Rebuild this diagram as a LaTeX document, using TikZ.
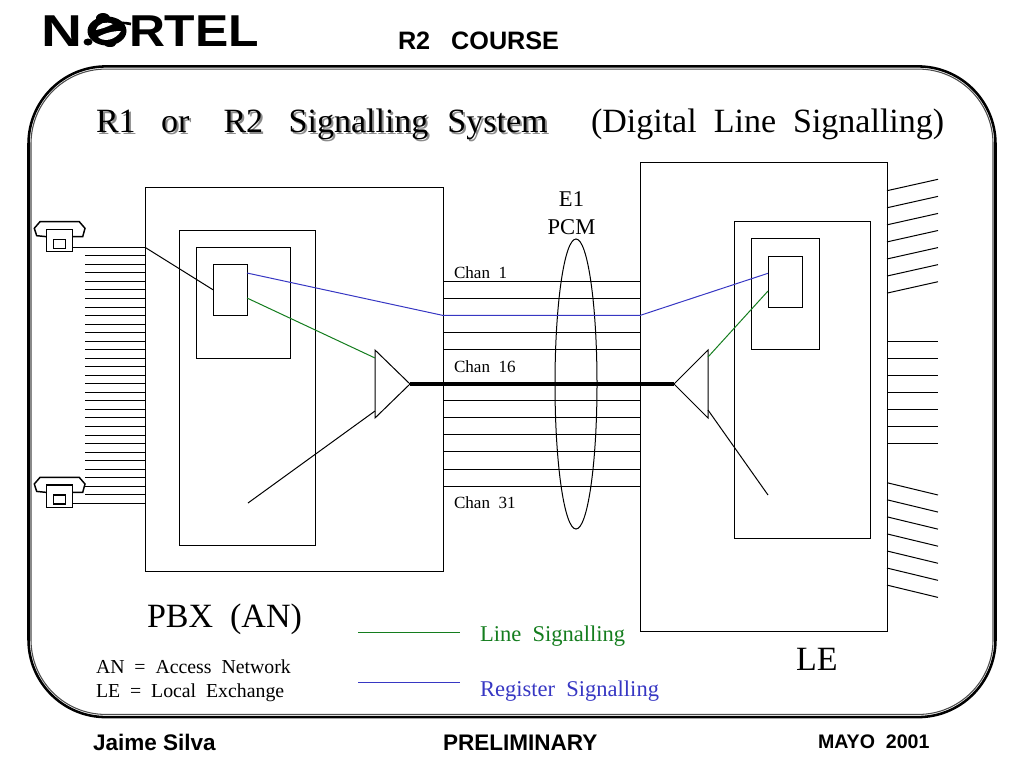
\documentclass[tikz,border=0pt]{standalone}
\usepackage{fontspec}
\setmainfont{Liberation Serif}
\setsansfont{Liberation Sans}
\usetikzlibrary{positioning,shapes.geometric}
\definecolor{lineg}{RGB}{20,125,30}
\definecolor{regb}{RGB}{55,55,195}
\tikzset{
  box/.style={draw,inner sep=0pt,outer sep=0pt,line width=.75pt,fill=none},
  txt/.style={anchor=base west,inner sep=0pt,outer sep=0pt},
  big/.style={txt,font=\fontsize{25.5}{30}\selectfont},
  mid/.style={txt,font=\fontsize{16.9}{20}\selectfont},
  small/.style={txt,font=\fontsize{14.85}{18}\selectfont},
  chan/.style={txt,font=\fontsize{12.8}{15}\selectfont},
  foot/.style={txt,font=\fontsize{16.9}{20}\selectfont\sffamily\bfseries},
  logo/.style={txt,font=\fontsize{33.5}{36}\selectfont\sffamily\bfseries},
  phone/.pic={
    \draw[line width=1.1pt] (-12.8,3.8) -- (-22.8,4.8) -- (-25.2,12.2) -- (-19.5,18.8)
      -- (19.8,18.8) -- (25.5,12.2) -- (23.2,3.8) -- (12.8,3.8);
    \node[box,line width=1.1pt,minimum width=19.2pt,minimum height=16.8pt] (-body) at (0,0) {};
    \node[box,line width=1.1pt,minimum width=9.3pt,minimum height=6.75pt] (-key) at (0,-3.3) {};
  }
}
\begin{document}
\begin{tikzpicture}[x=.75pt,y=.75pt,line width=.75pt]
\useasboundingbox (0,0) rectangle (1024,-768);

\node[logo,xscale=1.27] (logon) at (41,-46.5) {N};
\node[logo,xscale=1.116] (logortel) at (129,-46.5) {RTEL};
\fill (107,-31) ellipse (19.5 and 14.5);
\fill (103,-18) ellipse (7 and 5);
\fill (88,-42) ellipse (4.5 and 3.5);
\fill (110,-44) ellipse (6 and 3);
\fill[white] (96,-30) .. controls (98,-23) and (106,-21) .. (113,-24) .. controls (107,-27) and (101,-29) .. cycle;
\fill[white] (98,-37) .. controls (103,-42) and (115,-41) .. (121,-31) .. controls (113,-31) and (105,-33) .. cycle;
\draw[line width=2pt] (112,-22) .. controls (118,-24) and (124,-22) .. (131,-24);

\node[foot,font=\fontsize{18.9}{20}\selectfont\sffamily\bfseries] (course) at (398,-49.5) {R2~~~COURSE};

\node[box,line width=1.9pt,rounded corners=58pt,minimum width=725.25pt,minimum height=488pt] (frame) at (512,-391.75) {};
\node[box,line width=.8pt,draw=black!70,rounded corners=56pt,minimum width=721.5pt,minimum height=484pt] (framein) at (512,-391.75) {};

\node[big,text=black!45] (titleshadow) at (98,-134) {R1~~~or~~~~R2~~~Signalling~~\hspace{1.5pt}System};
\node[big] (title) at (96,-132) {R1~~~or~~~~R2~~~Signalling~~\hspace{1.5pt}System};
\node[big] (subtitle) at (591,-132) {(Digital~~Line~~Signalling)};

\node[box,minimum width=223.5pt,minimum height=288pt] (pbx) at (294,-379) {};
\node[box,minimum width=102pt,minimum height=236.6pt] (pbxmid) at (247,-388.25) {};
\node[box,minimum width=70.5pt,minimum height=83.25pt] (pbxin) at (243,-302.5) {};
\node[box,minimum width=25.5pt,minimum height=38.6pt] (pbxcpu) at (230,-289.75) {};

\node[box,minimum width=185.25pt,minimum height=351.75pt] (le) at (763.5,-396.5) {};
\node[box,minimum width=102pt,minimum height=237.4pt] (lemid) at (802,-379.75) {};
\node[box,minimum width=51pt,minimum height=83.6pt] (lein) at (785,-294.25) {};
\node[box,minimum width=25.5pt,minimum height=38.25pt] (lecpu) at (785,-281.5) {};

\pic (phonea) at (59.5,-240.5) {phone};
\pic (phoneb) at (59.5,-496.2) {phone};

\coordinate (l1) at (145,-247.3);
\draw (l1) -- (l1 -| phonea-body.east);
\coordinate[below of=l1,node distance=6.4pt] (l2); \draw (l2) -- ++(-60,0) coordinate (m2);
\coordinate[below of=l2,node distance=6.4pt] (l3); \draw (l3) -- ++(-60,0) coordinate (m3);
\coordinate[below of=l3,node distance=6.4pt] (l4); \draw (l4) -- ++(-60,0) coordinate (m4);
\coordinate[below of=l4,node distance=6.4pt] (l5); \draw (l5) -- ++(-60,0) coordinate (m5);
\coordinate[below of=l5,node distance=6.4pt] (l6); \draw (l6) -- ++(-60,0) coordinate (m6);
\coordinate[below of=l6,node distance=6.4pt] (l7); \draw (l7) -- ++(-60,0) coordinate (m7);
\coordinate[below of=l7,node distance=6.4pt] (l8); \draw (l8) -- ++(-60,0) coordinate (m8);
\coordinate[below of=l8,node distance=6.4pt] (l9); \draw (l9) -- ++(-60,0) coordinate (m9);
\coordinate[below of=l9,node distance=6.4pt] (l10); \draw (l10) -- ++(-60,0) coordinate (m10);
\coordinate[below of=l10,node distance=6.4pt] (l11); \draw (l11) -- ++(-60,0) coordinate (m11);
\coordinate[below of=l11,node distance=6.4pt] (l12); \draw (l12) -- ++(-60,0) coordinate (m12);
\coordinate[below of=l12,node distance=6.4pt] (l13); \draw (l13) -- ++(-60,0) coordinate (m13);
\coordinate[below of=l13,node distance=6.4pt] (l14); \draw (l14) -- ++(-60,0) coordinate (m14);
\coordinate[below of=l14,node distance=6.4pt] (l15); \draw (l15) -- ++(-60,0) coordinate (m15);
\coordinate[below of=l15,node distance=6.4pt] (l16); \draw (l16) -- ++(-60,0) coordinate (m16);
\coordinate[below of=l16,node distance=6.4pt] (l17); \draw (l17) -- ++(-60,0) coordinate (m17);
\coordinate[below of=l17,node distance=6.4pt] (l18); \draw (l18) -- ++(-60,0) coordinate (m18);
\coordinate[below of=l18,node distance=6.4pt] (l19); \draw (l19) -- ++(-60,0) coordinate (m19);
\coordinate[below of=l19,node distance=6.4pt] (l20); \draw (l20) -- ++(-60,0) coordinate (m20);
\coordinate[below of=l20,node distance=6.4pt] (l21); \draw (l21) -- ++(-60,0) coordinate (m21);
\coordinate[below of=l21,node distance=6.4pt] (l22); \draw (l22) -- ++(-60,0) coordinate (m22);
\coordinate[below of=l22,node distance=6.4pt] (l23); \draw (l23) -- ++(-60,0) coordinate (m23);
\coordinate[below of=l23,node distance=6.4pt] (l24); \draw (l24) -- ++(-60,0) coordinate (m24);
\coordinate[below of=l24,node distance=6.4pt] (l25); \draw (l25) -- ++(-60,0) coordinate (m25);
\coordinate[below of=l25,node distance=6.4pt] (l26); \draw (l26) -- ++(-60,0) coordinate (m26);
\coordinate[below of=l26,node distance=6.4pt] (l27); \draw (l27) -- ++(-60,0) coordinate (m27);
\coordinate[below of=l27,node distance=6.4pt] (l28); \draw (l28) -- ++(-60,0) coordinate (m28);
\coordinate[below of=l28,node distance=6.4pt] (l29); \draw (l29) -- ++(-60,0) coordinate (m29);
\coordinate[below of=l29,node distance=6.4pt] (l30); \draw (l30) -- ++(-60,0) coordinate (m30);
\coordinate[below of=l30,node distance=6.4pt] (l31);
\draw (l31) -- (l31 -| phoneb-body.east);

\coordinate (c1) at (443,-281.3);
\coordinate[below of=c1,node distance=12.8pt] (c2);
\coordinate[below of=c2,node distance=12.8pt] (c3);
\coordinate[below of=c3,node distance=12.8pt] (c4);
\coordinate[below of=c4,node distance=12.8pt] (c5);
\coordinate[below of=c5,node distance=38.4pt] (c8);
\coordinate[below of=c8,node distance=12.8pt] (c9);
\coordinate[below of=c9,node distance=12.8pt] (c10);
\coordinate[below of=c10,node distance=12.8pt] (c11);
\coordinate[below of=c11,node distance=12.8pt] (c12);
\coordinate[below of=c12,node distance=12.8pt] (c13);
\coordinate[right of=c1,node distance=147.75pt] (d1);
\coordinate[right of=c2,node distance=147.75pt] (d2);
\coordinate[right of=c3,node distance=147.75pt] (d3);
\coordinate[right of=c4,node distance=147.75pt] (d4);
\coordinate[right of=c5,node distance=147.75pt] (d5);
\coordinate[right of=c8,node distance=147.75pt] (d8);
\coordinate[right of=c9,node distance=147.75pt] (d9);
\coordinate[right of=c10,node distance=147.75pt] (d10);
\coordinate[right of=c11,node distance=147.75pt] (d11);
\coordinate[right of=c12,node distance=147.75pt] (d12);
\coordinate[right of=c13,node distance=147.75pt] (d13);
\draw (c1) -- (d1);
\draw (c2) -- (d2);
\draw (c4) -- (d4);
\draw (c5) -- (d5);
\draw (c8) -- (d8);
\draw (c9) -- (d9);
\draw (c10) -- (d10);
\draw (c11) -- (d11);
\draw (c12) -- (d12);
\draw (c13) -- (d13);

\coordinate (ltop) at (375,-350);
\coordinate (lbot) at (375,-418);
\coordinate (ltip) at (410,-384);
\coordinate (rtop) at (708,-350);
\coordinate (rbot) at (708,-418);
\coordinate (rtip) at (674,-384);
\draw (ltop) -- (ltip) -- (lbot) -- cycle;
\draw (rtop) -- (rtip) -- (rbot) -- cycle;
\draw[line width=2.4pt] (ltip) -- (rtip);

\node[draw,ellipse,inner sep=0pt,minimum width=31.5pt,minimum height=217.5pt] (pcm) at (576,-384) {};

\coordinate (blueb) at (247,-273);
\coordinate (greena) at (247,-298);
\coordinate (greenb) at (375,-358);
\coordinate (bluec) at (768,-273.3);
\coordinate (greenc) at (768,-291);
\coordinate (greend) at (708,-357);
\draw[regb] (blueb) -- (c3) -- (d3) -- (bluec);
\draw[lineg] (greena) -- (greenb);
\draw[lineg] (greend) -- (greenc);

\coordinate (blka) at (248,-503);
\coordinate (blkb) at (375,-411);
\coordinate (blkc) at (708,-410);
\coordinate (blkd) at (768,-495);
\draw (l1) -- (pbxcpu.west);
\draw (blka) -- (blkb);
\draw (blkc) -- (blkd);

\coordinate (r1) at (887,-190.7);
\coordinate[below of=r1,node distance=12.8pt] (r2);
\coordinate[below of=r2,node distance=12.8pt] (r3);
\coordinate[below of=r3,node distance=12.8pt] (r4);
\coordinate[below of=r4,node distance=12.8pt] (r5);
\coordinate[below of=r5,node distance=12.8pt] (r6);
\coordinate[below of=r6,node distance=12.8pt] (r7);
\draw (r1) -- ++(51,11.4) coordinate (s1);
\draw (r2) -- ++(51,11.4) coordinate (s2);
\draw (r3) -- ++(51,11.4) coordinate (s3);
\draw (r4) -- ++(51,11.4) coordinate (s4);
\draw (r5) -- ++(51,11.4) coordinate (s5);
\draw (r6) -- ++(51,11.4) coordinate (s6);
\draw (r7) -- ++(51,11.4) coordinate (s7);

\coordinate (r8) at (887,-341.3);
\coordinate[below of=r8,node distance=12.8pt] (r9);
\coordinate[below of=r9,node distance=12.8pt] (r10);
\coordinate[below of=r10,node distance=12.8pt] (r11);
\coordinate[below of=r11,node distance=12.8pt] (r12);
\coordinate[below of=r12,node distance=12.8pt] (r13);
\coordinate[below of=r13,node distance=12.8pt] (r14);
\draw (r8) -- ++(51,0) coordinate (s8);
\draw (r9) -- ++(51,0) coordinate (s9);
\draw (r10) -- ++(51,0) coordinate (s10);
\draw (r11) -- ++(51,0) coordinate (s11);
\draw (r12) -- ++(51,0) coordinate (s12);
\draw (r13) -- ++(51,0) coordinate (s13);
\draw (r14) -- ++(51,0) coordinate (s14);

\coordinate (r15) at (887,-482.7);
\coordinate[below of=r15,node distance=12.8pt] (r16);
\coordinate[below of=r16,node distance=12.8pt] (r17);
\coordinate[below of=r17,node distance=12.8pt] (r18);
\coordinate[below of=r18,node distance=12.8pt] (r19);
\coordinate[below of=r19,node distance=12.8pt] (r20);
\coordinate[below of=r20,node distance=12.8pt] (r21);
\draw (r15) -- ++(51,-12.3) coordinate (s15);
\draw (r16) -- ++(51,-12.3) coordinate (s16);
\draw (r17) -- ++(51,-12.3) coordinate (s17);
\draw (r18) -- ++(51,-12.3) coordinate (s18);
\draw (r19) -- ++(51,-12.3) coordinate (s19);
\draw (r20) -- ++(51,-12.3) coordinate (s20);
\draw (r21) -- ++(51,-12.3) coordinate (s21);

\node[mid,anchor=base] (eone) at (571.5,-206) {E1};
\node[mid,anchor=base] (pcmlab) at (571.5,-234) {PCM};
\node[chan] (chana) at (454,-278.5) {Chan~~1};
\node[chan] (chanb) at (454,-372.5) {Chan~~16};
\node[chan] (chanc) at (454,-508.5) {Chan~~31};

\node[big] (pbxlab) at (147,-627.5) {PBX~~(AN)};
\node[big] (lelab) at (796,-670) {LE};
\node[small] (anlab) at (96,-673) {AN~~=~~Access~~Network};
\node[small] (lelegend) at (96,-697) {LE~~=~~Local~~Exchange};

\coordinate (lega) at (358,-632);
\coordinate (legb) at (460,-632);
\coordinate (legc) at (358,-682);
\coordinate (legd) at (460,-682);
\draw[lineg] (lega) -- (legb);
\draw[regb] (legc) -- (legd);
\node[mid,text=lineg] (linelab) at (480,-641) {Line~~Signalling};
\node[mid,text=regb] (reglab) at (480,-696) {Register~~Signalling};

\node[foot] (jaime) at (93,-750) {Jaime Silva};
\node[foot] (prelim) at (443,-750) {PRELIMINARY};
\node[foot,font=\fontsize{14.7}{18}\selectfont\sffamily\bfseries] (mayo) at (818,-748) {MAYO~~2001};
\end{tikzpicture}
\end{document}
